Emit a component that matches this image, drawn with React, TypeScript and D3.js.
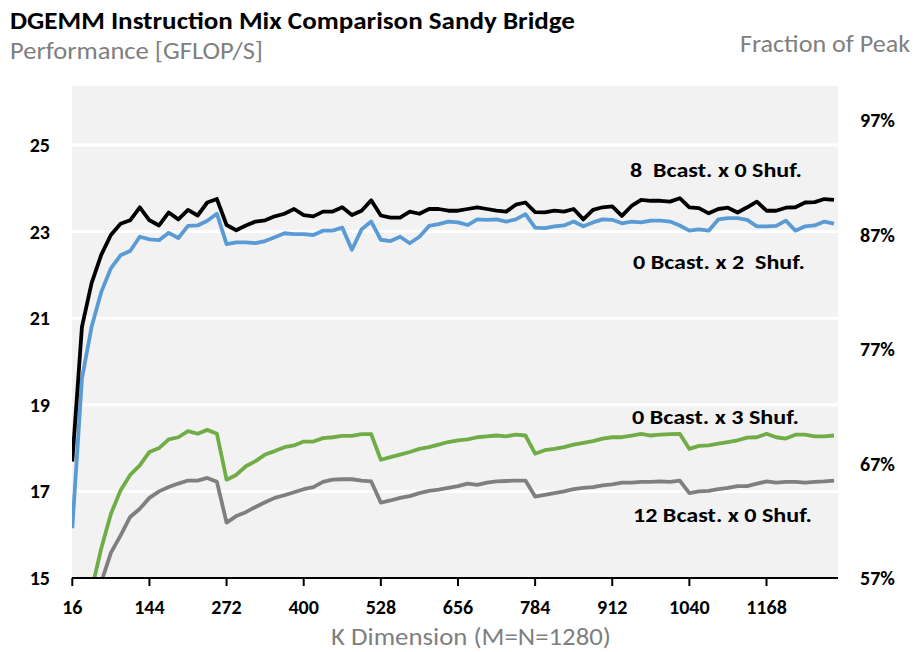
import React from 'react'
import * as d3 from 'd3'

// K dimension categories (M=N=1280)
const kValues = d3.range(16, 1281, 16)
const kTickLabels = [16, 144, 272, 400, 528, 656, 784, 912, 1040, 1168]
const leftTicks = [15, 17, 19, 21, 23, 25]
const rightTicks = [0.57, 0.67, 0.77, 0.87, 0.97]

const bcast8shuf0 = [
  17.69, 20.8, 21.81, 22.46, 22.92, 23.18, 23.26, 23.56, 23.26, 23.14,
  23.44, 23.28, 23.5, 23.37, 23.67, 23.75, 23.15, 23.03, 23.14, 23.23,
  23.26, 23.35, 23.41, 23.52, 23.38, 23.35, 23.46, 23.46, 23.56, 23.38,
  23.48, 23.72, 23.37, 23.32, 23.32, 23.46, 23.41, 23.52, 23.52, 23.48,
  23.48, 23.52, 23.56, 23.52, 23.48, 23.46, 23.62, 23.67, 23.45, 23.44,
  23.48, 23.46, 23.52, 23.28, 23.5, 23.56, 23.58, 23.36, 23.59, 23.73,
  23.71, 23.71, 23.69, 23.77, 23.56, 23.54, 23.42, 23.52, 23.55, 23.44,
  23.56, 23.69, 23.48, 23.48, 23.55, 23.56, 23.67, 23.68, 23.75, 23.73,
]
const bcast0shuf2 = [
  16.15, 19.6, 20.8, 21.6, 22.15, 22.45, 22.55, 22.88, 22.82, 22.8,
  22.97, 22.85, 23.13, 23.14, 23.25, 23.41, 22.71, 22.75, 22.75, 22.73,
  22.78, 22.87, 22.96, 22.94, 22.94, 22.92, 23.02, 23.02, 23.09, 22.58,
  23.05, 23.23, 22.81, 22.78, 22.88, 22.73, 22.88, 23.13, 23.17, 23.23,
  23.21, 23.15, 23.28, 23.27, 23.28, 23.23, 23.28, 23.4, 23.09, 23.08,
  23.12, 23.14, 23.23, 23.12, 23.21, 23.28, 23.27, 23.19, 23.23, 23.21,
  23.25, 23.25, 23.23, 23.14, 23.02, 23.05, 23.02, 23.28, 23.31, 23.31,
  23.27, 23.12, 23.12, 23.13, 23.25, 23.02, 23.12, 23.14, 23.23, 23.18,
]
const bcast0shuf3 = [
  13.0, 14.0, 14.72, 15.68, 16.48, 17.02, 17.38, 17.6, 17.91, 18.0,
  18.2, 18.25, 18.39, 18.33, 18.42, 18.33, 17.27, 17.38, 17.58, 17.7,
  17.85, 17.93, 18.02, 18.06, 18.15, 18.15, 18.23, 18.25, 18.28, 18.28,
  18.32, 18.32, 17.73, 17.79, 17.85, 17.91, 17.98, 18.02, 18.08, 18.14,
  18.18, 18.2, 18.25, 18.27, 18.29, 18.27, 18.31, 18.29, 17.87, 17.95,
  17.98, 18.02, 18.08, 18.12, 18.16, 18.22, 18.25, 18.25, 18.29, 18.33,
  18.29, 18.31, 18.32, 18.33, 17.98, 18.05, 18.06, 18.1, 18.14, 18.18,
  18.24, 18.25, 18.33, 18.25, 18.22, 18.31, 18.31, 18.27, 18.27, 18.29,
]
const bcast12shuf0 = [
  12.2, 13.2, 14.1, 14.9, 15.58, 15.98, 16.41, 16.6, 16.85, 17.0,
  17.1, 17.18, 17.25, 17.25, 17.31, 17.22, 16.28, 16.43, 16.52, 16.64,
  16.75, 16.85, 16.91, 16.98, 17.05, 17.1, 17.22, 17.27, 17.28, 17.28,
  17.25, 17.23, 16.74, 16.79, 16.85, 16.89, 16.96, 17.01, 17.04, 17.08,
  17.12, 17.18, 17.15, 17.2, 17.23, 17.24, 17.25, 17.25, 16.88, 16.92,
  16.96, 17.0, 17.05, 17.08, 17.1, 17.14, 17.16, 17.2, 17.2, 17.22,
  17.22, 17.23, 17.22, 17.25, 16.96, 17.0, 17.01, 17.05, 17.08, 17.12,
  17.12, 17.18, 17.23, 17.2, 17.22, 17.22, 17.2, 17.22, 17.23, 17.25,
]

const seriesList = [
  { name: '12 Bcast. x 0 Shuf.', values: bcast12shuf0, color: '#7f7f7f', label: [633, 522, 179] },
  { name: '0 Bcast. x 3 Shuf.', values: bcast0shuf3, color: '#70ad47', label: [632, 424, 167] },
  { name: '0 Bcast. x 2  Shuf.', values: bcast0shuf2, color: '#5b9bd5', label: [633, 269, 172] },
  { name: '8  Bcast. x 0 Shuf.', values: bcast8shuf0, color: '#000000', label: [630, 177, 172] },
]

const W = 915
const H = 652
const plot = { left: 72, right: 838, top: 86, bottom: 578 }
const font = 'Calibri, Carlito, Lato, sans-serif'

export default function App() {
  const x = d3.scaleLinear().domain([0, kValues.length - 1]).range([72.3, 834])
  const y = d3.scaleLinear().domain([15, 26.36]).range([plot.bottom, plot.top])
  const yRight = d3.scaleLinear().domain([0.57, 1.0]).range([plot.bottom, plot.top])
  const line = d3
    .line<number>()
    .x((d, i) => x(i))
    .y((d) => y(d))
  const fmtPct = d3.format('.0%')

  return (
    <svg
      width={W}
      height={H}
      style={{ position: 'absolute', left: 0, top: 0, background: '#fff' }}
      fontFamily={font}
    >
      <defs>
        <clipPath id="plotClip">
          <rect x={plot.left} y={plot.top} width={plot.right - plot.left} height={plot.bottom - plot.top} />
        </clipPath>
      </defs>

      <text x={10} y={29} fontSize={24} fontWeight="bold" fill="#000" textLength={565} lengthAdjust="spacingAndGlyphs">
        DGEMM Instruction Mix Comparison Sandy Bridge
      </text>
      <text x={10} y={59} fontSize={24} fill="#7f7f7f" textLength={253} lengthAdjust="spacingAndGlyphs">
        Performance [GFLOP/S]
      </text>
      <text x={740} y={52} fontSize={24} fill="#7f7f7f" textLength={170} lengthAdjust="spacingAndGlyphs">
        Fraction of Peak
      </text>

      <rect
        x={plot.left}
        y={plot.top}
        width={plot.right - plot.left}
        height={plot.bottom - plot.top}
        fill="#f2f2f2"
      />
      {leftTicks.slice(1).map((t) => (
        <line key={t} x1={plot.left} x2={plot.right} y1={y(t)} y2={y(t)} stroke="#fff" strokeWidth={3} />
      ))}

      <g clipPath="url(#plotClip)">
        {seriesList.map((s) => (
          <path
            key={s.name}
            d={line(s.values) || ''}
            fill="none"
            stroke={s.color}
            strokeWidth={3.8}
            strokeLinejoin="round"
          />
        ))}
      </g>

      {/* x axis */}
      <line x1={plot.left} x2={plot.right} y1={plot.bottom} y2={plot.bottom} stroke="#000" strokeWidth={2} />
      {kTickLabels.map((k) => {
        const xi = x(kValues.indexOf(k))
        return (
          <g key={k}>
            <line x1={xi} x2={xi} y1={plot.bottom} y2={plot.bottom + 8} stroke="#000" strokeWidth={2} />
            <text x={xi} y={614} fontSize={20} fontWeight="bold" textAnchor="middle">
              {k}
            </text>
          </g>
        )
      })}
      <text x={331} y={645} fontSize={24} fill="#7f7f7f" textLength={280} lengthAdjust="spacingAndGlyphs">
        K Dimension (M=N=1280)
      </text>

      {/* left axis */}
      {leftTicks.map((t) => (
        <text key={t} x={50} y={y(t) + 7} fontSize={20} fontWeight="bold" textAnchor="end">
          {t}
        </text>
      ))}
      {/* right axis */}
      {rightTicks.map((t) => (
        <text key={t} x={860} y={yRight(t) + 7} fontSize={20} fontWeight="bold">
          {fmtPct(t)}
        </text>
      ))}

      {seriesList.map((s) => (
        <text
          key={s.name}
          x={s.label[0]}
          y={s.label[1]}
          fontSize={20}
          fontWeight="bold"
          textLength={s.label[2]}
          lengthAdjust="spacingAndGlyphs"
          style={{ whiteSpace: 'pre' }}
        >
          {s.name}
        </text>
      ))}
    </svg>
  )
}
